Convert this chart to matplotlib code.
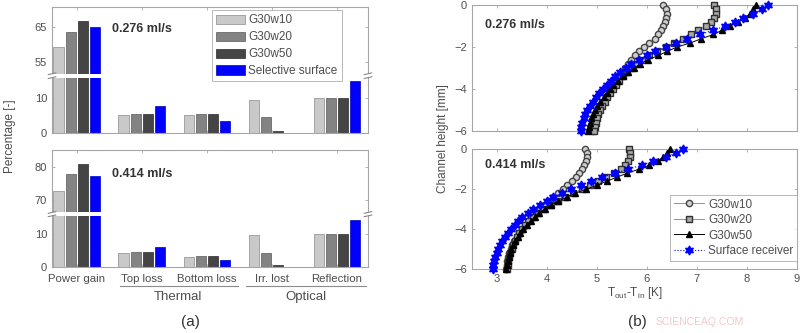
import numpy as np
import matplotlib
matplotlib.use("Agg")
import matplotlib.pyplot as plt
from matplotlib.patches import Rectangle
from matplotlib.lines import Line2D
import matplotlib.transforms as mtransforms

plt.rcParams['font.family'] = ['Liberation Sans', 'DejaVu Sans']

# ---- panel (a) data ----
categories = ['Power gain', 'Top loss', 'Bottom loss', 'Irr. lost', 'Reflection']
bar_series = ['G30w10', 'G30w20', 'G30w50', 'Selective surface']
bar_colors = ['#c9c9c9', '#838383', '#454545', '#0000ff']
bar_edges = ['#8a8a8a', '#5a5a5a', '#2a2a2a', '#0000c0']

vals_276 = [
    [59.3, 5.1, 5.1, 9.5, 10.0],
    [63.6, 5.3, 5.3, 4.4, 10.0],
    [66.7, 5.5, 5.5, 0.7, 10.0],
    [65.0, 7.6, 3.4, 0.0, 14.8],
]
vals_414 = [
    [72.8, 4.2, 3.0, 9.5, 10.0],
    [77.8, 4.4, 3.2, 4.2, 10.0],
    [80.7, 4.6, 3.4, 0.6, 10.0],
    [77.2, 5.9, 2.0, 0.0, 14.2],
]

# ---- panel (b) data ----
heights = [0.0, -0.2, -0.4, -0.6, -0.8, -1.0, -1.2, -1.4, -1.6, -1.8, -2.0,
           -2.2, -2.4, -2.6, -2.8, -3.0, -3.2, -3.4, -3.6, -3.8, -4.0,
           -4.2, -4.4, -4.6, -4.8, -5.0, -5.2, -5.4, -5.6, -5.8, -6.0]

w10_276 = [6.33, 6.38, 6.40, 6.39, 6.37, 6.33, 6.29, 6.23, 6.16, 6.05, 5.95,
           5.84, 5.76, 5.68, 5.62, 5.56, 5.50, 5.45, 5.40, 5.34, 5.29,
           5.24, 5.19, 5.14, 5.09, 5.05, 5.01, 4.98, 4.96, 4.94, 4.93]
w20_276 = [7.35, 7.38, 7.38, 7.34, 7.28, 7.18, 7.03, 6.88, 6.72, 6.55, 6.38,
           6.20, 6.04, 5.90, 5.78, 5.68, 5.60, 5.52, 5.45, 5.38, 5.32,
           5.27, 5.21, 5.16, 5.11, 5.07, 5.03, 5.00, 4.98, 4.96, 4.95]
w50_276 = [8.18, 8.13, 8.06, 7.97, 7.83, 7.66, 7.50, 7.33, 7.09, 6.87, 6.60,
           6.41, 6.23, 6.03, 5.87, 5.75, 5.63, 5.52, 5.42, 5.33, 5.26,
           5.20, 5.14, 5.07, 5.01, 4.96, 4.93, 4.89, 4.87, 4.85, 4.83]
sr_276 = [8.42, 8.30, 8.13, 7.93, 7.76, 7.57, 7.32, 7.06, 6.81, 6.58, 6.39,
          6.17, 6.00, 5.84, 5.69, 5.58, 5.47, 5.37, 5.29, 5.20, 5.12,
          5.05, 4.99, 4.93, 4.87, 4.81, 4.77, 4.74, 4.71, 4.69, 4.68]

w10_414 = [4.77, 4.80, 4.80, 4.79, 4.75, 4.71, 4.65, 4.59, 4.51, 4.41, 4.32,
           4.22, 4.12, 4.03, 3.95, 3.87, 3.80, 3.72, 3.65, 3.58, 3.51,
           3.45, 3.40, 3.35, 3.31, 3.28, 3.25, 3.23, 3.21, 3.20, 3.19]
w20_414 = [5.65, 5.67, 5.66, 5.62, 5.56, 5.48, 5.34, 5.18, 5.02, 4.86, 4.70,
           4.53, 4.37, 4.22, 4.08, 3.95, 3.83, 3.72, 3.63, 3.56, 3.50,
           3.45, 3.41, 3.37, 3.33, 3.30, 3.27, 3.25, 3.23, 3.22, 3.21]
w50_414 = [6.47, 6.41, 6.33, 6.22, 6.05, 5.84, 5.61, 5.40, 5.20, 5.00, 4.79,
           4.57, 4.40, 4.23, 4.08, 3.96, 3.85, 3.76, 3.68, 3.60, 3.53,
           3.47, 3.42, 3.37, 3.32, 3.29, 3.26, 3.24, 3.22, 3.20, 3.19]
sr_414 = [6.72, 6.58, 6.38, 6.12, 5.90, 5.63, 5.36, 5.10, 4.88, 4.68, 4.48,
          4.30, 4.13, 4.00, 3.87, 3.73, 3.62, 3.51, 3.42, 3.36, 3.29,
          3.22, 3.16, 3.11, 3.06, 3.03, 3.00, 2.97, 2.95, 2.93, 2.92]

profile_names = ['G30w10', 'G30w20', 'G30w50', 'Surface receiver']

TXT = '#4d4d4d'
SPINE = '#a6a6a6'

fig = plt.figure(figsize=(8, 3.33), dpi=100)


def style_axes(ax):
    for s in ax.spines.values():
        s.set_color(SPINE)
        s.set_linewidth(0.8)
    ax.tick_params(direction='in', length=2.5, width=0.6, color=SPINE,
                   labelcolor=TXT, labelsize=8, top=True, right=True)


def broken_bars(ax, vals, offset, brk, ytop, lower_ticks, upper_ticks, label):
    x = np.arange(1, len(categories) + 1)
    offs = [-0.28, -0.093, 0.093, 0.28]
    handles = []
    for i, series in enumerate(vals):
        plot_vals = [v - offset if v > brk[1] else v for v in series]
        b = ax.bar(x + offs[i], plot_vals, width=0.155, color=bar_colors[i],
                   edgecolor=bar_edges[i], linewidth=0.5, label=bar_series[i],
                   zorder=2)
        handles.append(b)
    ax.set_xlim(0.62, 5.48)
    ax.set_ylim(0, ytop)
    ax.set_xticks(x)
    ax.set_yticks(list(lower_ticks) + [t - offset for t in upper_ticks])
    ax.set_yticklabels([str(t) for t in lower_ticks] + [str(t) for t in upper_ticks])
    style_axes(ax)
    # break band
    trans = mtransforms.blended_transform_factory(ax.transAxes, ax.transData)
    ax.add_patch(Rectangle((-0.02, brk[0]), 1.04, brk[2] - brk[0],
                           transform=trans, facecolor='white', edgecolor='none',
                           zorder=5, clip_on=False))
    for xc in (0.0, 1.0):
        for yb in (brk[0], brk[2]):
            ax.add_line(Line2D([xc - 0.012, xc + 0.012], [yb - 0.25, yb + 0.25],
                               transform=trans, color='#7a7a7a', lw=0.7,
                               zorder=6, clip_on=False))
    ax.text(0.19, label[1], label[0], transform=ax.transAxes, fontsize=9,
            fontweight='bold', color='#333333', va='center', ha='left')
    return handles


# (a) top
ax1 = fig.add_axes([0.065, 0.6006, 0.395, 0.378])
h = broken_bars(ax1, vals_276, 35, (15.7, 51, 16.8), 35.7, [0, 10], [55, 65],
                ('0.276 ml/s', 0.825))
ax1.set_xticklabels([])
leg = ax1.legend(handles=h, loc='upper left', bbox_to_anchor=(0.505, 0.975),
                 fontsize=8.5, frameon=True, fancybox=False, handlelength=2.5,
                 handleheight=0.85, borderpad=0.35, labelspacing=0.42,
                 handletextpad=0.25, borderaxespad=0)
leg.get_frame().set_edgecolor(SPINE)
leg.get_frame().set_linewidth(0.7)
for t in leg.get_texts():
    t.set_color(TXT)
leg.set_zorder(10)

# (a) bottom
ax2 = fig.add_axes([0.065, 0.198, 0.395, 0.351])
broken_bars(ax2, vals_414, 50, (15.3, 66, 16.3), 34.9, [0, 10], [70, 80],
            ('0.414 ml/s', 0.795))
ax2.set_xticklabels(categories, fontsize=8.2, color=TXT)
ax2.tick_params(axis='x', pad=5)

fig.text(0.013, 0.59, 'Percentage [-]', rotation=90, ha='center', va='center',
         fontsize=8.5, color=TXT)
# group annotations
fig.add_artist(Line2D([120 / 800, 238 / 800], [1 - 286 / 333] * 2,
                      color='#8c8c8c', lw=0.8))
fig.add_artist(Line2D([246 / 800, 366 / 800], [1 - 286 / 333] * 2,
                      color='#8c8c8c', lw=0.8))
fig.text(178 / 800, 1 - 297 / 333, 'Thermal', ha='center', va='center',
         fontsize=9.5, color=TXT)
fig.text(306 / 800, 1 - 297 / 333, 'Optical', ha='center', va='center',
         fontsize=9.5, color=TXT)
fig.text(190 / 800, 1 - 322 / 333, '(a)', ha='center', va='center',
         fontsize=11, color='#333333')

# (b)
star = (6, 1, 0)
styles = [
    dict(marker='o', color='#808080', mfc='#d0d0d0', mec='#454545', ms=4.5, ls='-', lw=0.6),
    dict(marker='s', color='#808080', mfc='#a8a8a8', mec='#303030', ms=4.2, ls='-', lw=0.6),
    dict(marker='^', color='black', mfc='black', mec='black', ms=4.8, ls='-', lw=0.7),
    dict(marker=star, color='#0000ff', mfc='#0000ff', mec='#0000ff', ms=6.5, ls=':', lw=0.8),
]


def profiles(ax, data, label, ly):
    for d, st, nm in zip(data, styles, profile_names):
        ax.plot(d, heights, label=nm, clip_on=False, zorder=3, **st)
    ax.set_xlim(2.5, 9)
    ax.set_ylim(-6, 0)
    ax.set_xticks(range(3, 10))
    ax.set_yticks([-6, -4, -2, 0])
    style_axes(ax)
    ax.text(0.04, ly, label, transform=ax.transAxes, fontsize=9,
            fontweight='bold', color='#333333', va='center', ha='left')


ax3 = fig.add_axes([0.59, 0.6066, 0.406, 0.378])
profiles(ax3, [w10_276, w20_276, w50_276, sr_276], '0.276 ml/s', 0.84)
ax3.set_xticklabels([])

ax4 = fig.add_axes([0.59, 0.192, 0.406, 0.36])
profiles(ax4, [w10_414, w20_414, w50_414, sr_414], '0.414 ml/s', 0.87)
leg2 = ax4.legend(loc='lower right', bbox_to_anchor=(1.0, 0.07), fontsize=8.5,
                  frameon=True, fancybox=False, handlelength=2.6,
                  borderpad=0.3, labelspacing=0.3, handletextpad=0.3,
                  borderaxespad=0.0)
leg2.get_frame().set_edgecolor(SPINE)
leg2.get_frame().set_linewidth(0.7)
for t in leg2.get_texts():
    t.set_color(TXT)
leg2.set_zorder(10)
ax4.set_xlabel('T$_{\\mathregular{out}}$-T$_{\\mathregular{in}}$ [K]', fontsize=8.5,
               color=TXT, labelpad=1)

fig.text(443 / 800, 0.585, 'Channel height [mm]', rotation=90, ha='center',
         va='center', fontsize=8.5, color=TXT)
fig.text(637 / 800, 1 - 322 / 333, '(b)', ha='center', va='center',
         fontsize=11, color='#333333')
fig.text(700 / 800, 1 - 322 / 333, 'SCIENCEAQ.COM', ha='center', va='center',
         fontsize=7.5, color='#f2c9c9')

fig.savefig('out.png', dpi=100)
